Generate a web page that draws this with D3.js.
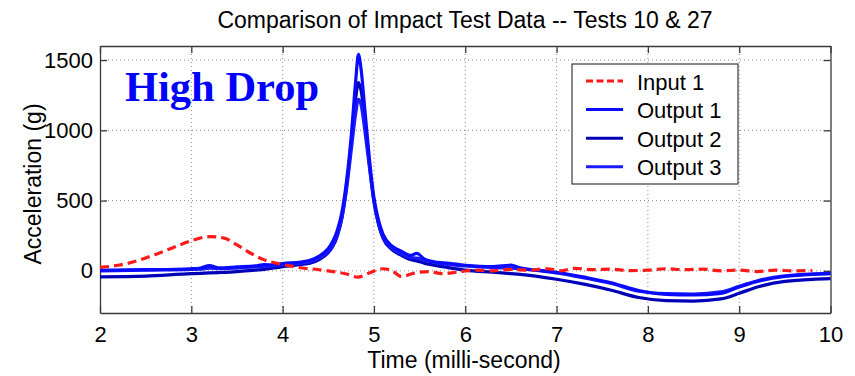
<!DOCTYPE html>
<html>
<head>
<meta charset="utf-8">
<script src="https://cdn.jsdelivr.net/npm/d3@7"></script>
<style>
  html, body { margin: 0; padding: 0; background: #fff; }
  svg { display: block; }
</style>
</head>
<body>
<svg id="chart" width="855" height="376"></svg>
<script>
// ---------- DATA ----------
const chartTitle = "Comparison of Impact Test Data -- Tests 10 & 27";
const xLabel = "Time (milli-second)";
const yLabel = "Acceleration (g)";
const annotation = "High Drop";

const xTicks = [2, 3, 4, 5, 6, 7, 8, 9, 10];
const yTicks = [0, 500, 1000, 1500];

const seriesNames = ["Input 1", "Output 1", "Output 2", "Output 3"];

const inputTime = [2.0, 2.2, 2.4, 2.6, 2.8, 3.0, 3.2, 3.35, 3.5, 3.65, 3.8, 4.0, 4.2, 4.4, 4.6, 4.7, 4.82, 4.95, 5.1, 5.2, 5.3, 5.45, 5.6, 5.75, 5.9, 6.1, 6.3, 6.5, 6.7, 6.9, 7.05, 7.2, 7.4, 7.6, 7.8, 8.0, 8.2, 8.4, 8.6, 8.8, 9.0, 9.2, 9.4, 9.6, 9.8];
const input1 = [25, 40, 70, 115, 165, 215, 243, 235, 185, 125, 78, 45, 22, 8, -10, -22, -45, -15, 15, 0, -40, -15, -5, -20, -10, 5, 0, 10, 5, 15, 0, 18, 8, 12, 2, 5, 15, 8, 12, 0, 5, -5, 5, 0, 3];

const outputTime = [2.0, 2.5, 3.0, 3.1, 3.2, 3.3, 3.5, 3.7, 3.8, 3.9, 4.0, 4.2, 4.3, 4.4, 4.5, 4.55, 4.6, 4.65, 4.7, 4.75, 4.8, 4.83, 4.86, 4.9, 4.95, 5.0, 5.05, 5.1, 5.2, 5.3, 5.4, 5.47, 5.55, 5.7, 5.8, 6.0, 6.3, 6.5, 6.6, 7.0, 7.3, 7.6, 7.9, 8.2, 8.5, 8.8, 9.0, 9.2, 9.5, 10.0];
const output1 = [5, 8, 15, 20, 38, 22, 28, 35, 45, 42, 52, 62, 75, 105, 160, 210, 290, 420, 640, 950, 1350, 1540, 1430, 1150, 800, 520, 360, 260, 175, 140, 110, 125, 85, 60, 55, 40, 30, 40, 22, -10, -45, -85, -140, -168, -172, -160, -115, -75, -40, -20];
const output2 = [-43, -38, -20, -18, -15, -12, -5, 5, 10, 20, 30, 45, 55, 80, 130, 175, 250, 380, 600, 900, 1230, 1340, 1280, 1080, 760, 490, 330, 230, 150, 110, 80, 70, 55, 35, 25, 5, -10, -20, -25, -60, -95, -138, -190, -212, -215, -200, -160, -115, -75, -55];
const output3 = [0, 5, 10, 12, 20, 15, 20, 28, 30, 35, 45, 55, 65, 90, 140, 185, 260, 380, 580, 850, 1120, 1220, 1180, 1000, 740, 500, 340, 240, 160, 120, 95, 90, 75, 55, 45, 35, 22, 20, 15, -15, -50, -90, -145, -162, -165, -150, -110, -70, -35, -18];

// ---------- LAYOUT ----------
const SANS = "'Liberation Sans', Arial, sans-serif";
const SERIF = "'Liberation Serif', 'Times New Roman', serif";
const svg = d3.select("#chart");
const L = 100, R = 830.5, T = 46, B = 313;
const x = d3.scaleLinear().domain([2, 10]).range([L, R]);
const y = d3.scaleLinear().domain([-300, 1600]).range([B, T]);

const colors = { "Input 1": "#ff1a1a", "Output 1": "#0a0aff", "Output 2": "#0000b8", "Output 3": "#1a1aff" };

// grid
const grid = svg.append("g");
grid.selectAll("line.gx").data(xTicks.filter(d => d > 2 && d < 10)).enter().append("line")
  .attr("x1", d => x(d)).attr("x2", d => x(d)).attr("y1", T).attr("y2", B)
  .attr("stroke", "#8a8a8a").attr("stroke-width", 1).attr("stroke-dasharray", "1,3");
grid.selectAll("line.gy").data(yTicks).enter().append("line")
  .attr("x1", L).attr("x2", R).attr("y1", d => y(d)).attr("y2", d => y(d))
  .attr("stroke", "#8a8a8a").attr("stroke-width", 1).attr("stroke-dasharray", "1,3");

// axes
const fmt = d3.format("d");
const axB = svg.append("g").attr("transform", `translate(0,${B})`)
  .call(d3.axisBottom(x).tickValues(xTicks).tickFormat(fmt).tickSizeInner(-7).tickSizeOuter(0).tickPadding(13));
const axT = svg.append("g").attr("transform", `translate(0,${T})`)
  .call(d3.axisTop(x).tickValues(xTicks).tickFormat("").tickSizeInner(-7).tickSizeOuter(0));
const axL = svg.append("g").attr("transform", `translate(${L},0)`)
  .call(d3.axisLeft(y).tickValues(yTicks).tickFormat(fmt).tickSizeInner(-7).tickSizeOuter(0).tickPadding(7));
const axR = svg.append("g").attr("transform", `translate(${R},0)`)
  .call(d3.axisRight(y).tickValues(yTicks).tickFormat("").tickSizeInner(-7).tickSizeOuter(0));
[axB, axT, axL, axR].forEach(a => {
  a.selectAll("path.domain").attr("stroke", "#3a3a3a").attr("stroke-width", 1.3);
  a.selectAll(".tick line").attr("stroke", "#3a3a3a").attr("stroke-width", 1.3);
  a.selectAll(".tick text").style("font-family", SANS)
    .style("font-size", "22px").attr("fill", "#000");
});
axB.selectAll(".tick text").attr("dy", "0.71em");

// lines
const lineGen = d3.line().x(d => x(d[0])).y(d => y(d[1])).curve(d3.curveMonotoneX);
const plot = svg.append("g");
const outs = [["Output 2", output2], ["Output 3", output3], ["Output 1", output1]];
outs.forEach(([name, vals]) => {
  plot.append("path")
    .datum(outputTime.map((t, i) => [t, vals[i]]))
    .attr("d", lineGen).attr("fill", "none")
    .attr("stroke", colors[name]).attr("stroke-width", 3.2).attr("stroke-linejoin", "round");
});
plot.append("path")
  .datum(inputTime.map((t, i) => [t, input1[i]]))
  .attr("d", lineGen).attr("fill", "none")
  .attr("stroke", colors["Input 1"]).attr("stroke-width", 3.2).attr("stroke-dasharray", "9,5");

// title & labels
svg.append("text").attr("x", 465).attr("y", 28).attr("text-anchor", "middle")
  .style("font-family", SANS).style("font-size", "23px").text(chartTitle);
svg.append("text").attr("x", 464).attr("y", 368).attr("text-anchor", "middle")
  .style("font-family", SANS).style("font-size", "23px").text(xLabel);
svg.append("text").attr("transform", "translate(41,184) rotate(-90)").attr("text-anchor", "middle")
  .style("font-family", SANS).style("font-size", "23px").text(yLabel);

// annotation
svg.append("text").attr("x", 125).attr("y", 101)
  .style("font-family", SERIF).style("font-weight", "bold")
  .style("font-size", "42.5px").style("fill", "#0000ff").text(annotation);

// legend
const lg = svg.append("g");
lg.append("rect").attr("x", 572).attr("y", 64).attr("width", 166).attr("height", 120)
  .attr("fill", "#fff").attr("stroke", "#3a3a3a").attr("stroke-width", 1.2);
seriesNames.forEach((name, i) => {
  const ly = 81 + i * 28.6;
  lg.append("line").attr("x1", 586).attr("x2", 623).attr("y1", ly).attr("y2", ly)
    .attr("stroke", colors[name]).attr("stroke-width", 3)
    .attr("stroke-dasharray", name === "Input 1" ? "7,3.5" : null);
  lg.append("text").attr("x", 637).attr("y", ly + 8.5)
    .style("font-family", SANS).style("font-size", "22px").text(name);
});
</script>
</body>
</html>
